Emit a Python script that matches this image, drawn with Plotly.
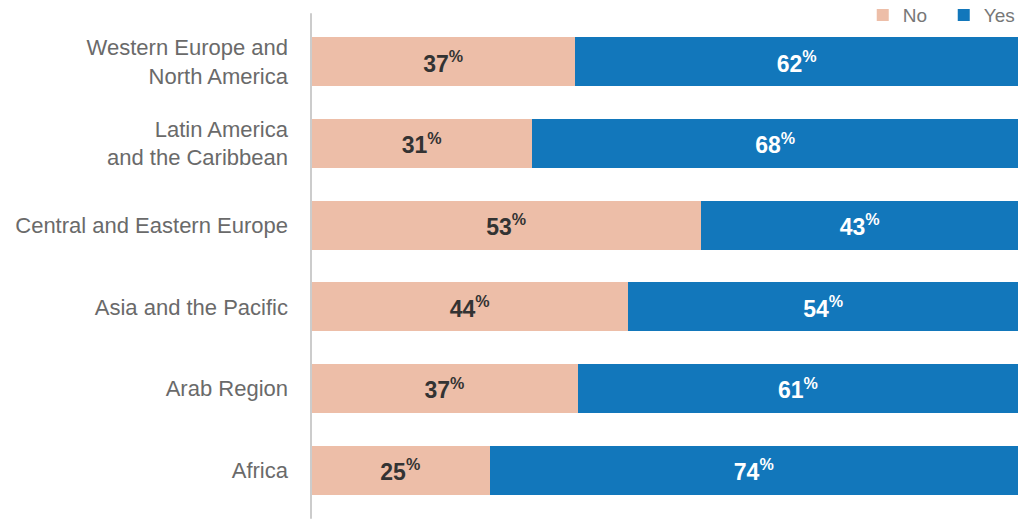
import plotly.graph_objects as go

regions = ["Western Europe and<br>North America", "Latin America<br>and the Caribbean",
           "Central and Eastern Europe", "Asia and the Pacific", "Arab Region", "Africa"]
no_vals = [37, 31, 53, 44, 37, 25]
yes_vals = [62, 68, 43, 54, 61, 74]

NO_COLOR = "#EDBEA8"
YES_COLOR = "#1277BB"
LABEL_FONT = "Liberation Sans, Arial"

fig = go.Figure()
fig.add_trace(go.Bar(
    y=regions, x=no_vals, name="No", orientation="h",
    marker=dict(color=NO_COLOR, line=dict(width=0)),
    text=[f"<b>{v}<sup>%</sup></b>" for v in no_vals],
    textposition="inside", insidetextanchor="middle",
    textfont=dict(color="#333333", size=23, family=LABEL_FONT),
    hoverinfo="skip",
))
fig.add_trace(go.Bar(
    y=regions, x=yes_vals, name="Yes", orientation="h",
    marker=dict(color=YES_COLOR, line=dict(width=0)),
    text=[f"<b>{v}<sup>%</sup></b>" for v in yes_vals],
    textposition="inside", insidetextanchor="middle",
    textfont=dict(color="white", size=23, family=LABEL_FONT),
    hoverinfo="skip",
))

fig.update_layout(
    barmode="stack", barnorm="percent", bargap=0.4,
    width=1021, height=519,
    margin=dict(l=311, r=3, t=21, b=8, autoexpand=False),
    plot_bgcolor="white", paper_bgcolor="white",
    font=dict(family="Liberation Sans, Arial", color="#6A6A6A"),
    uniformtext=dict(mode="show", minsize=8),
    hovermode=False,
    legend=dict(orientation="h", xref="container", yref="container",
                x=0.845, xanchor="left", y=0.971, yanchor="middle",
                font=dict(size=19, color="#777777"), traceorder="normal",
                itemwidth=30, entrywidth=36, entrywidthmode="pixels",
                itemclick=False, itemdoubleclick=False,
                bgcolor="rgba(0,0,0,0)"),
    xaxis=dict(visible=False, range=[0, 100], fixedrange=True),
    yaxis=dict(autorange="reversed", showgrid=False, showline=False, zeroline=False,
               ticks="", tickfont=dict(size=22, color="#6A6A6A"), ticklabelstandoff=22,
               automargin=False, fixedrange=True),
    shapes=[dict(type="line", xref="paper", yref="paper", x0=0, x1=0, y0=-0.016, y1=1.016,
                 line=dict(color="#CCCCCC", width=2))],
)

fig.write_html(
    "out.html",
    config={"displayModeBar": False},
    post_script="document.body.style.margin='0';document.documentElement.style.overflow='hidden';",
)
